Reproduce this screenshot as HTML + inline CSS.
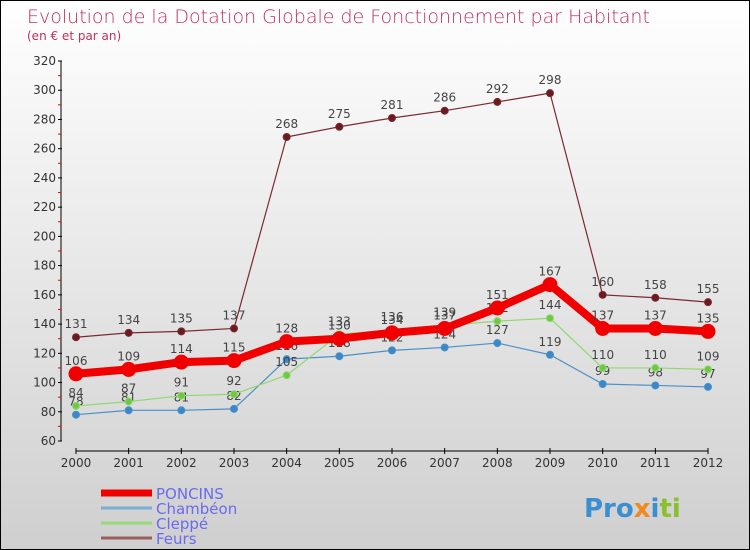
<!DOCTYPE html>
<html><head><meta charset="utf-8"><style>
body{margin:0}
#c{width:750px;height:550px;position:relative;box-sizing:border-box;border:1px solid #000;background:linear-gradient(#ffffff,#cfcfcf);font-family:"DejaVu Sans","Liberation Sans",sans-serif;overflow:hidden}
text{font-family:"DejaVu Sans","Liberation Sans",sans-serif}
</style></head><body>
<div id="c">
<svg id="s" width="750" height="550">
<text x="26" y="22" font-size="19" fill="#c0305a" style="font-weight:200">Evolution de la Dotation Globale de Fonctionnement par Habitant</text>
<text x="26" y="39" font-size="12" fill="#c0305a">(en € et par an)</text>
<g id="axes"></g><g id="plot"></g><g id="legend"></g>
<text x="583" y="516" font-size="26" font-weight="bold" fill="#3a8fd0">Pro<tspan fill="#f08a20">x</tspan><tspan fill="#3a8fd0">i</tspan><tspan fill="#8ac030">ti</tspan></text>
</svg></div>
<script>
const years=[2000,2001,2002,2003,2004,2005,2006,2007,2008,2009,2010,2011,2012];
const poncins=[106,109,114,115,128,130,134,137,151,167,137,137,135];
const chambeon=[78,81,81,82,116,118,122,124,127,119,99,98,97];
const cleppe=[84,87,91,92,105,133,136,139,142,144,110,110,109];
const feurs=[131,134,135,137,268,275,281,286,292,298,160,158,155];
const yTicks=[60,80,100,120,140,160,180,200,220,240,260,280,300,320];
const NS="http://www.w3.org/2000/svg";
const X=i=>75+i*(707-75)/12;
const Y=v=>440-(v-60)*(380/260);
function mk(t,a,p){const e=document.createElementNS(NS,t);for(const k in a)e.setAttribute(k,a[k]);p.appendChild(e);return e;}
const ax=document.getElementById('axes'),pl=document.getElementById('plot'),lg=document.getElementById('legend');
let e=mk('line',{x1:60,y1:Y(320),x2:60,y2:Y(60),stroke:'#000'},ax);

e=mk('line',{x1:X(0),y1:450,x2:X(12),y2:450,stroke:'#000'},ax);

yTicks.forEach(v=>{mk('line',{x1:57,x2:61,y1:Y(v),y2:Y(v),stroke:'#000'},ax);
 const t=mk('text',{x:55,y:Y(v)+4,'text-anchor':'end','font-size':12,fill:'#333'},ax);t.textContent=v;
 
 if(v<320)mk('line',{x1:57,x2:60,y1:Y(v+10),y2:Y(v+10),stroke:'#e00'},ax);});
years.forEach((y,i)=>{mk('line',{x1:X(i),x2:X(i),y1:447,y2:453,stroke:'#000'},ax);
 const t=mk('text',{x:X(i),y:466,'text-anchor':'middle','font-size':12,fill:'#333'},ax);t.textContent=y;
 });
function series(vals,color,w,r,fill,name){
 const g=mk('g',{},pl);
 const p=mk('polyline',{points:vals.map((v,i)=>X(i)+','+Y(v)).join(' '),fill:'none',stroke:color,'stroke-width':w,'stroke-linejoin':'round'},g);
 
 vals.forEach((v,i)=>{const c=mk('circle',{cx:X(i),cy:Y(v),r:r,fill:fill,stroke:color,'stroke-width':1},g);
  
  const t=mk('text',{x:X(i),y:Y(v)-9,'text-anchor':'middle','font-size':12,fill:'#444'},g);t.textContent=v;
  });
}
series(feurs,'#7a2a30',1.2,3.5,'#6a1a20','feurs');
series(chambeon,'#4a90c8',1.2,3.5,'#3a88c8','chambeon');
series(cleppe,'#90d870',1.2,3.5,'#70c840','cleppe');
series(poncins,'#f00000',8,7,'#f00000','poncins');
const names=['PONCINS','Chambéon','Cleppé','Feurs'],cols=['#f00000','#7aaed0','#98d878','#9a6060'],ws=[7,3,3,3];
names.forEach((n,i)=>{const y=492+i*15;
 const l=mk('line',{x1:100,x2:151,y1:y,y2:y,stroke:cols[i],'stroke-width':ws[i]},lg);
 
 const t=mk('text',{x:155,y:y+6,'font-size':15,fill:'#6a6af0'},lg);t.textContent=n;
 });
</script>
</body></html>
